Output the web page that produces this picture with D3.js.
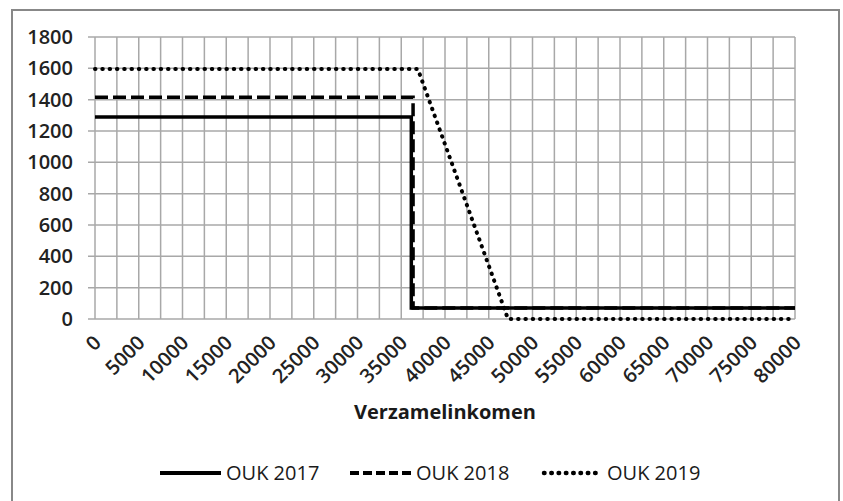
<!DOCTYPE html>
<html>
<head>
<meta charset="utf-8">
<script src="https://cdn.jsdelivr.net/npm/d3@7"></script>
<style>
  body { margin: 0; background: #fff; }
  svg { display: block; font-family: "Open Sans", sans-serif; }
</style>
</head>
<body>
<div id="chart"></div>
<script>
// income (x) and OUK amount (y) per series
const ouk2017X = [0, 36150, 36150, 80000];
const ouk2017Y = [1290, 1290, 70, 70];
const ouk2018X = [0, 36350, 36350, 80000];
const ouk2018Y = [1415, 1415, 70, 70];
const ouk2019X = [0, 36900, 47200, 80000];
const ouk2019Y = [1595, 1595, 0, 0];

const seriesNames = ['OUK 2017', 'OUK 2018', 'OUK 2019'];
const xTicks = [0, 5000, 10000, 15000, 20000, 25000, 30000, 35000, 40000,
  45000, 50000, 55000, 60000, 65000, 70000, 75000, 80000];
const xGrid = [0, 2500, 5000, 7500, 10000, 12500, 15000, 17500, 20000, 22500,
  25000, 27500, 30000, 32500, 35000, 37500, 40000, 42500, 45000, 47500, 50000,
  52500, 55000, 57500, 60000, 62500, 65000, 67500, 70000, 72500, 75000, 77500, 80000];
const yTicks = [0, 200, 400, 600, 800, 1000, 1200, 1400, 1600, 1800];
const xTitle = 'Verzamelinkomen';

const W = 843, H = 501;
const FONT = 20;
const x = d3.scaleLinear().domain([0, 80000]).range([95, 795]);
const y = d3.scaleLinear().domain([0, 1800]).range([319, 37]);

// solid, dashed, dotted
const styles = [
  { dash: null, cap: 'butt', width: 3.5 },
  { dash: '13,5', cap: 'butt', width: 3.5 },
  { dash: '0.5,6.8', cap: 'round', width: 4 }
];

const svg = d3.select('#chart').append('svg')
  .attr('width', W)
  .attr('height', H);

// outer frame (runs off the bottom edge)
svg.append('rect')
  .attr('x', 12).attr('y', 10)
  .attr('width', 827).attr('height', 520)
  .attr('fill', '#fff')
  .attr('stroke', '#888')
  .attr('stroke-width', 2);

// gridlines
const grid = svg.append('g')
  .attr('stroke', '#a8a8a8')
  .attr('stroke-width', 1.5);

grid.selectAll('line.v')
  .data(xGrid)
  .enter().append('line')
  .attr('class', 'v')
  .attr('x1', d => x(d)).attr('x2', d => x(d))
  .attr('y1', y(1800)).attr('y2', y(0));

grid.selectAll('line.h')
  .data(yTicks)
  .enter().append('line')
  .attr('class', 'h')
  .attr('x1', x(0) - 7).attr('x2', x(80000))
  .attr('y1', d => y(d)).attr('y2', d => y(d));

// y axis labels
const yAxis = svg.append('g')
  .attr('transform', `translate(${x(0) - 22},0)`)
  .call(d3.axisLeft(y).tickValues(yTicks).tickSize(0).tickPadding(0).tickFormat(d3.format('d')));
yAxis.select('.domain').remove();
yAxis.selectAll('text')
  .attr('font-size', FONT)
  .attr('font-weight', 600)
  .attr('font-family', '"Open Sans", sans-serif')
  .attr('fill', '#222');

// x axis labels, rotated
const xAxis = svg.append('g')
  .attr('transform', `translate(0,${y(0)})`)
  .call(d3.axisBottom(x).tickValues(xTicks).tickSize(0).tickFormat(d3.format('d')));
xAxis.select('.domain').remove();
xAxis.selectAll('text')
  .attr('font-size', FONT)
  .attr('font-weight', 600)
  .attr('font-family', '"Open Sans", sans-serif')
  .attr('fill', '#222')
  .attr('text-anchor', 'end')
  .attr('y', 0)
  .attr('dy', '0.35em')
  .attr('transform', 'translate(2,20) rotate(-45)');

svg.append('text')
  .attr('x', 445).attr('y', 419)
  .attr('text-anchor', 'middle')
  .attr('font-size', FONT)
  .attr('font-weight', 'bold')
  .attr('fill', '#1a1a1a')
  .text(xTitle);

// series
const series = [
  ouk2017X.map((v, i) => [v, ouk2017Y[i]]),
  ouk2018X.map((v, i) => [v, ouk2018Y[i]]),
  ouk2019X.map((v, i) => [v, ouk2019Y[i]])
];

const line = d3.line()
  .x(d => x(d[0]))
  .y(d => y(d[1]));

svg.append('g').selectAll('path')
  .data(series)
  .enter().append('path')
  .attr('d', line)
  .attr('fill', 'none')
  .attr('stroke', '#000')
  .attr('stroke-width', (d, i) => styles[i].width)
  .attr('stroke-linecap', (d, i) => styles[i].cap)
  .attr('stroke-dasharray', (d, i) => styles[i].dash);

// legend
const legendX = [160, 350, 542];
const lg = svg.append('g').selectAll('g')
  .data(seriesNames)
  .enter().append('g')
  .attr('transform', (d, i) => `translate(${legendX[i]},473)`);

lg.append('line')
  .attr('x1', (d, i) => i === 2 ? 2 : 0).attr('x2', (d, i) => i === 2 ? 56 : 61)
  .attr('stroke', '#000')
  .attr('stroke-width', (d, i) => styles[i].width + 0.5)
  .attr('stroke-linecap', (d, i) => styles[i].cap)
  .attr('stroke-dasharray', (d, i) => i === 1 ? '9,4' : styles[i].dash);

lg.append('text')
  .attr('x', (d, i) => i === 2 ? 65 : 66)
  .attr('dy', '0.35em')
  .attr('font-size', FONT)
  .attr('font-weight', 500)
  .attr('fill', '#1a1a1a')
  .text(d => d);
</script>
</body>
</html>
